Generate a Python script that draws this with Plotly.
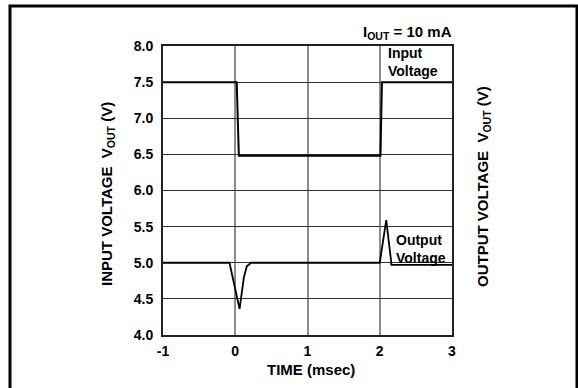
import plotly.graph_objects as go

# Data
input_t = [-1.0, 0.02, 0.05, 1.98, 2.01, 2.03, 3.0]
input_v = [7.5, 7.5, 6.48, 6.48, 6.48, 7.5, 7.5]

output_t = [-1.0, -0.08, 0.06, 0.12, 0.16, 0.22, 2.0, 2.09, 2.16, 2.16, 3.0]
output_v = [5.0, 5.0, 4.36, 4.8, 4.95, 5.0, 5.0, 5.59, 5.0, 4.97, 4.97]

x_ticks = [-1, 0, 1, 2, 3]
y_ticks = [4.0, 4.5, 5.0, 5.5, 6.0, 6.5, 7.0, 7.5, 8.0]

FONT = "Liberation Sans, Arial, sans-serif"
FS_TICK = 14
FS_TITLE = 15
FS_NOTE = 14

fig = go.Figure()
fig.add_trace(go.Scatter(x=input_t, y=input_v, mode="lines",
                         line=dict(color="black", width=2), showlegend=False))
fig.add_trace(go.Scatter(x=output_t, y=output_v, mode="lines",
                         line=dict(color="black", width=1.8), showlegend=False))

L, R, T, B = 163, 126, 46, 53
W, H = 578, 388
pw, ph = W - L - R, H - T - B

def px(xp):
    return (xp - L) / pw

def py(yp):
    return (H - B - yp) / ph

fig.update_layout(
    width=W, height=H,
    margin=dict(l=L, r=R, t=T, b=B),
    paper_bgcolor="white", plot_bgcolor="white",
    font=dict(family=FONT, size=FS_TICK, color="black"),
    xaxis=dict(range=[-1, 3], tickvals=x_ticks, ticktext=[str(v) for v in x_ticks],
               showgrid=True, gridcolor="#8c8c8c", gridwidth=1.5,
               showline=True, linecolor="#222", linewidth=2, mirror=True,
               zeroline=False, ticks="", ticklabelstandoff=2,
               tickfont=dict(family=FONT, size=FS_TICK, weight="bold"),
               fixedrange=True),
    yaxis=dict(range=[4, 8], tickvals=y_ticks, ticktext=[f"{v:.1f}" for v in y_ticks],
               showgrid=True, gridcolor="#333", gridwidth=1,
               showline=True, linecolor="#222", linewidth=2, mirror=True,
               zeroline=False, ticks="", ticklabelstandoff=5,
               tickfont=dict(family=FONT, size=FS_TICK, weight="bold"),
               fixedrange=True),
)

ann = []
ann.append(dict(text="<b>TIME (msec)</b>", xref="paper", yref="paper",
                x=px(311), y=py(369), showarrow=False, font=dict(size=FS_TITLE),
                xanchor="center", yanchor="middle"))
ann.append(dict(text="<b>INPUT VOLTAGE  V<sub>OUT</sub> (V)</b>", xref="paper", yref="paper",
                x=px(107), y=py(194), showarrow=False, textangle=-90, font=dict(size=FS_TITLE),
                xanchor="center", yanchor="middle"))
ann.append(dict(text="<b>OUTPUT VOLTAGE  V<sub>OUT</sub> (V)</b>", xref="paper", yref="paper",
                x=px(483), y=py(187), showarrow=False, textangle=-90, font=dict(size=FS_TITLE),
                xanchor="center", yanchor="middle"))
ann.append(dict(text="<b>I<sub>OUT</sub> = 10 mA</b>", xref="paper", yref="paper",
                x=px(454), y=py(33), showarrow=False, font=dict(size=FS_TITLE),
                xanchor="right", yanchor="middle"))
ann.append(dict(text="<b>Input<br>Voltage</b>", xref="paper", yref="paper",
                x=px(386), y=py(43), showarrow=False, font=dict(size=FS_NOTE),
                xanchor="left", yanchor="top", align="left"))
ann.append(dict(text="<b>Output<br>Voltage</b>", xref="paper", yref="paper",
                x=px(394), y=py(230), showarrow=False, font=dict(size=FS_NOTE),
                xanchor="left", yanchor="top", align="left"))
fig.update_layout(annotations=ann)

# outer frame
fig.add_shape(type="rect", xref="paper", yref="paper",
              x0=px(10), x1=px(577), y0=py(400), y1=py(6),
              line=dict(color="black", width=3), fillcolor="rgba(0,0,0,0)", layer="below")

fig.write_html("out.html")
